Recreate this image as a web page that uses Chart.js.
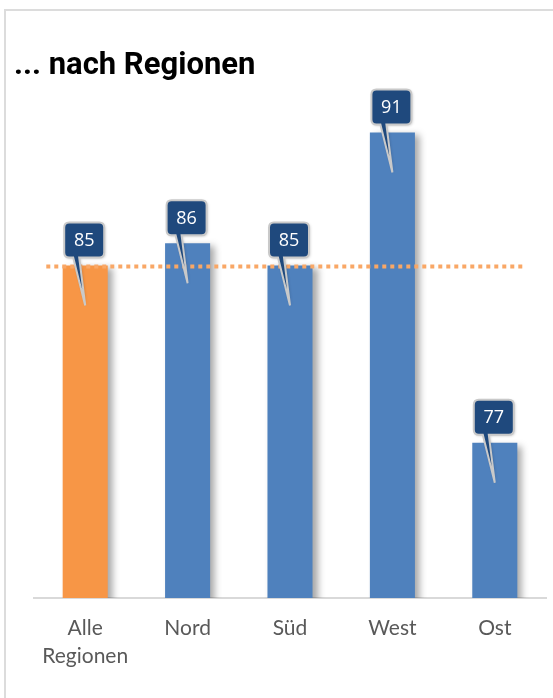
<!DOCTYPE html>
<html lang="de">
<head>
<meta charset="UTF-8">
<title>... nach Regionen</title>
<script src="https://cdn.jsdelivr.net/npm/chart.js@4.4.0/dist/chart.umd.min.js"></script>
<style>
    body, html {
        margin: 0;
        padding: 0;
        background: #fff;
    }
    .frame {
        position: absolute;
        left: 4px;
        top: 9px;
        width: 549px;
        height: 689px;
        border-left: 2px solid #dcdcdc;
        border-top: 2px solid #dcdcdc;
    }
    #chart {
        position: absolute;
        left: 0;
        top: 0;
    }
</style>
</head>
<body>
<div class="frame"></div>
<canvas id="chart" width="553" height="698"></canvas>
<script>
    const regions = [['Alle', 'Regionen'], 'Nord', 'Süd', 'West', 'Ost'];
    const scores = [85, 86, 85, 91, 77];
    const barColors = ['#F79646', '#4F81BD', '#4F81BD', '#4F81BD', '#4F81BD'];
    const averageScore = 85;

    // shadow behind the bars
    const barShadow = {
        id: 'barShadow',
        beforeDatasetsDraw(chart) {
            const ctx = chart.ctx;
            ctx.save();
            ctx.shadowColor = 'rgba(0,0,0,0.35)';
            ctx.shadowBlur = 7;
            ctx.shadowOffsetX = 5;
            ctx.shadowOffsetY = 3;
        },
        afterDatasetsDraw(chart) {
            chart.ctx.restore();
        }
    };

    // dotted orange line at the overall value
    const avgLine = {
        id: 'avgLine',
        afterDatasetsDraw(chart) {
            const ctx = chart.ctx;
            const x = chart.scales.x;
            const y = chart.scales.y.getPixelForValue(averageScore) + 1;
            const step = x.getPixelForValue(1) - x.getPixelForValue(0);
            ctx.save();
            ctx.strokeStyle = '#f9a766';
            ctx.lineWidth = 4;
            ctx.setLineDash([4, 4]);
            ctx.beginPath();
            ctx.moveTo(x.getPixelForValue(0) - step * 0.38, y);
            ctx.lineTo(x.getPixelForValue(scores.length - 1) + step * 0.27, y);
            ctx.stroke();
            ctx.restore();
        }
    };

    // dark blue callouts with the values
    const callouts = {
        id: 'callouts',
        afterDatasetsDraw(chart) {
            const ctx = chart.ctx;
            const meta = chart.getDatasetMeta(0);
            meta.data.forEach((bar, i) => {
                const cx = bar.x - 1;
                const w = 40, h = 35, r = 5;
                const left = cx - w / 2;
                const bottom = bar.y - 8;
                const top = bottom - h;
                const tipX = bar.x;
                const tipY = bar.y + 40;
                ctx.save();
                ctx.beginPath();
                ctx.moveTo(left + r, top);
                ctx.lineTo(left + w - r, top);
                ctx.quadraticCurveTo(left + w, top, left + w, top + r);
                ctx.lineTo(left + w, bottom - r);
                ctx.quadraticCurveTo(left + w, bottom, left + w - r, bottom);
                ctx.lineTo(left + 15, bottom);
                ctx.lineTo(tipX, tipY);
                ctx.lineTo(left + 9, bottom);
                ctx.lineTo(left + r, bottom);
                ctx.quadraticCurveTo(left, bottom, left, bottom - r);
                ctx.lineTo(left, top + r);
                ctx.quadraticCurveTo(left, top, left + r, top);
                ctx.closePath();
                ctx.shadowColor = 'rgba(0,0,0,0.25)';
                ctx.shadowBlur = 3;
                ctx.shadowOffsetX = 1;
                ctx.shadowOffsetY = 1;
                ctx.fillStyle = '#1F497D';
                ctx.fill();
                ctx.shadowColor = 'transparent';
                ctx.strokeStyle = '#c9c9c9';
                ctx.lineWidth = 2;
                ctx.stroke();
                ctx.fillStyle = '#ffffff';
                ctx.font = '18px "Open Sans", sans-serif';
                ctx.textAlign = 'center';
                ctx.textBaseline = 'middle';
                ctx.fillText(String(scores[i]), cx, top + h / 2 + 1);
                ctx.restore();
            });
        }
    };

    new Chart(document.getElementById('chart'), {
        type: 'bar',
        data: {
            labels: regions,
            datasets: [{
                data: scores,
                backgroundColor: barColors,
                borderWidth: 0,
                barPercentage: 0.44,
                categoryPercentage: 1
            }]
        },
        options: {
            responsive: false,
            animation: false,
            layout: {
                padding: { left: 14, right: 7, top: 49, bottom: 12 }
            },
            plugins: {
                legend: { display: false },
                tooltip: { enabled: false },
                title: {
                    display: true,
                    text: '... nach Regionen',
                    align: 'start',
                    color: '#000',
                    font: { family: 'Roboto, sans-serif', size: 31, weight: 'bold', lineHeight: 1.1 },
                    padding: { top: 0, bottom: 5 }
                }
            },
            scales: {
                x: {
                    grid: { display: false, drawTicks: false },
                    border: { display: true, color: '#d9d9d9', width: 2 },
                    ticks: {
                        color: '#595959',
                        padding: 16,
                        maxRotation: 0,
                        autoSkip: false,
                        font: { family: 'Lato, sans-serif', size: 21, lineHeight: 28 / 21 }
                    }
                },
                y: {
                    min: 70,
                    max: 93,
                    ticks: { display: false },
                    grid: { display: false, drawTicks: false },
                    border: { display: false },
                    afterFit(scale) { scale.width = 20; }
                }
            }
        },
        plugins: [barShadow, avgLine, callouts]
    });
</script>
</body>
</html>
